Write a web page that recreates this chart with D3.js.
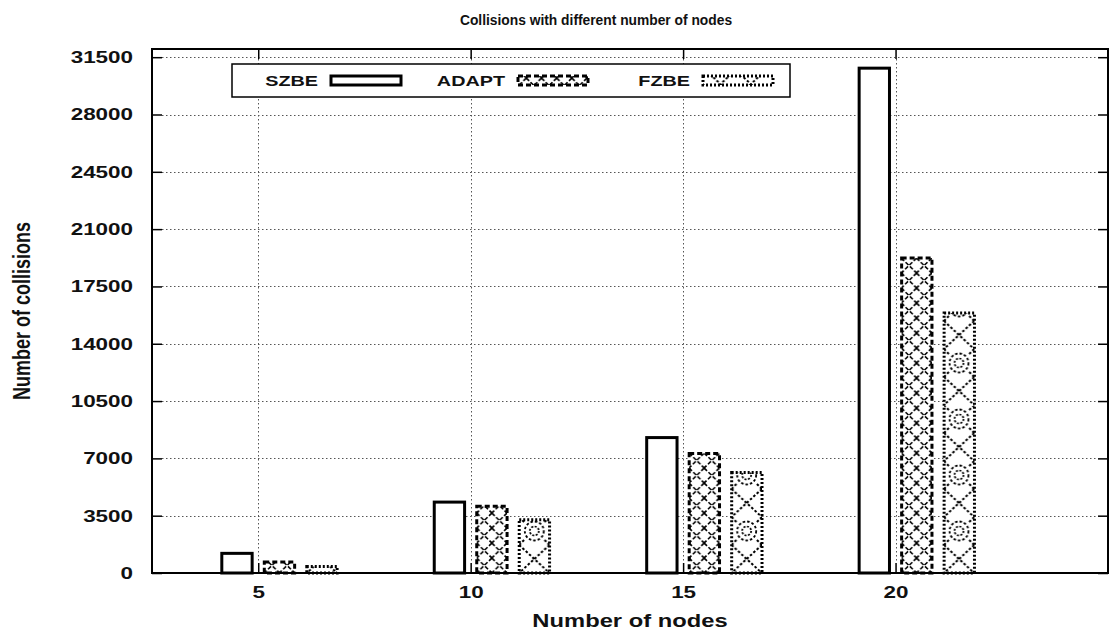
<!DOCTYPE html>
<html>
<head>
<meta charset="utf-8">
<script src="https://cdn.jsdelivr.net/npm/d3@7"></script>
<style>
  body { margin: 0; background: #fff; }
  text { font-family: "Liberation Sans", Arial, sans-serif; font-weight: bold; fill: #111; }
</style>
</head>
<body>
<svg width="1110" height="633"></svg>
<script>
// data
const nodes = [5, 10, 15, 20];
const seriesNames = ["SZBE", "ADAPT", "FZBE"];
const szbe = [1200, 4330, 8270, 30830];
const adapt = [670, 4070, 7300, 19230];
const fzbe = [400, 3250, 6140, 15880];
const yTicks = [0, 3500, 7000, 10500, 14000, 17500, 21000, 24500, 28000, 31500];

const svgWidth = 1110, svgHeight = 633;
const margin = { top: 49, right: 2, bottom: 60, left: 152 };
const width = svgWidth - margin.left - margin.right;
const height = svgHeight - margin.top - margin.bottom;
const sx = 1.32; // the original figure is stretched sideways

const svg = d3.select("svg");

const x = d3.scaleLinear().domain([2.5, 25]).range([0, width]);
const y = d3.scaleLinear().domain([0, 32000]).range([height, 0]);

const barW = 0.714;
const barPx = x(barW) - x(0);

// stretch text horizontally around its own x
function stretch(sel) {
    sel.each(function() {
        const t = d3.select(this);
        const tx = +t.attr("x") || 0;
        t.attr("transform", "translate(" + tx + ",0) scale(" + sx + ",1) translate(" + (-tx) + ",0)");
    });
}

// patterns, lined up with the bars
const defs = svg.append("defs");
const pA = defs.append("pattern")
    .attr("id", "patAdapt")
    .attr("patternUnits", "userSpaceOnUse")
    .attr("x", x(5 + 0.5 - barW / 2)).attr("y", y(0))
    .attr("width", barPx / 2).attr("height", 15);
pA.append("rect").attr("width", barPx / 2).attr("height", 15).attr("fill", "#fff");
pA.append("path")
    .attr("d", "M0,0 L" + barPx / 2 + ",15 M" + barPx / 2 + ",0 L0,15")
    .attr("stroke", "#000").attr("stroke-width", 1.6)
    .attr("stroke-dasharray", "4,2");

const w = barPx, ph = 56;
const pF = defs.append("pattern")
    .attr("id", "patFzbe")
    .attr("patternUnits", "userSpaceOnUse")
    .attr("x", x(5 + 1.5 - barW / 2)).attr("y", y(0))
    .attr("width", w).attr("height", ph);
pF.append("rect").attr("width", w).attr("height", ph).attr("fill", "#fff");
pF.append("circle").attr("cx", w / 2).attr("cy", 14).attr("r", 9.5)
    .attr("fill", "none").attr("stroke", "#000").attr("stroke-width", 1.8)
    .attr("stroke-dasharray", "2.5,2");
pF.append("circle").attr("cx", w / 2).attr("cy", 14).attr("r", 4.5)
    .attr("fill", "none").attr("stroke", "#000").attr("stroke-width", 1.7)
    .attr("stroke-dasharray", "2,1.5");
pF.append("path")
    .attr("d", "M0,28 L" + w + "," + ph + " M" + w + ",28 L0," + ph +
        " M0,0 L6,6 M" + w + ",0 L" + (w - 6) + ",6 M0,28 L6,22 M" + w + ",28 L" + (w - 6) + ",22")
    .attr("stroke", "#000").attr("stroke-width", 2)
    .attr("stroke-dasharray", "2.5,2");

const styles = [
    { fill: "#fff", dash: null, offset: -0.5, values: szbe },
    { fill: "url(#patAdapt)", dash: "5,3", offset: 0.5, values: adapt },
    { fill: "url(#patFzbe)", dash: "2,2", offset: 1.5, values: fzbe }
];

const g = svg.append("g")
    .attr("transform", "translate(" + margin.left + "," + margin.top + ")");

// grid
g.append("g").selectAll("line")
    .data(yTicks.slice(1))
    .join("line")
    .attr("x1", 10).attr("x2", width - 10)
    .attr("y1", d => Math.round(y(d)) + 0.5).attr("y2", d => Math.round(y(d)) + 0.5)
    .attr("stroke", "#555").attr("stroke-width", 1)
    .attr("stroke-dasharray", "1.5,2.5");

g.append("g").selectAll("line")
    .data(nodes)
    .join("line")
    .attr("x1", d => Math.round(x(d)) + 0.5).attr("x2", d => Math.round(x(d)) + 0.5)
    .attr("y1", 10).attr("y2", height - 10)
    .attr("stroke", "#555").attr("stroke-width", 1)
    .attr("stroke-dasharray", "1.5,2.5");

// bars
styles.forEach(function(s) {
    g.append("g").selectAll("rect")
        .data(nodes.map((n, i) => ({ n: n, v: s.values[i] })))
        .join("rect")
        .attr("x", d => x(d.n + s.offset - barW / 2))
        .attr("width", barPx)
        .attr("y", d => y(d.v))
        .attr("height", d => y(0) - y(d.v))
        .attr("fill", s.fill)
        .attr("stroke", "#000")
        .attr("stroke-width", 3)
        .attr("stroke-dasharray", s.dash);
});

// axes (gnuplot style: inward ticks, mirrored)
const fmt = d3.format("d");
const yAxisL = d3.axisLeft(y).tickValues(yTicks).tickFormat(fmt).tickSizeInner(-10).tickSizeOuter(0).tickPadding(19);
const yAxisR = d3.axisRight(y).tickValues(yTicks).tickSizeInner(-10).tickSizeOuter(0).tickFormat("");
const xAxisB = d3.axisBottom(x).tickValues(nodes).tickFormat(fmt).tickSizeInner(-10).tickSizeOuter(0).tickPadding(13);
const xAxisT = d3.axisTop(x).tickValues(nodes).tickSizeInner(-10).tickSizeOuter(0).tickFormat("");

function styleAxis(sel) {
    sel.selectAll("line").attr("stroke", "#000").attr("stroke-width", 1.5);
    sel.select(".domain").remove();
    sel.selectAll("text").attr("font-size", 17).attr("font-family", "Liberation Sans, Arial, sans-serif")
        .attr("font-weight", "bold").attr("fill", "#111").call(stretch);
}
g.append("g").call(yAxisL).call(styleAxis);
g.append("g").attr("transform", "translate(" + width + ",0)").call(yAxisR).call(styleAxis);
g.append("g").attr("transform", "translate(0," + height + ")").call(xAxisB).call(styleAxis);
g.append("g").call(xAxisT).call(styleAxis);

// frame
g.append("rect")
    .attr("x", 0).attr("y", 0)
    .attr("width", width).attr("height", height)
    .attr("fill", "none").attr("stroke", "#000").attr("stroke-width", 2);

// legend
const legend = svg.append("g").attr("transform", "translate(232,64)");
legend.append("rect")
    .attr("width", 558).attr("height", 33)
    .attr("fill", "#fff").attr("stroke", "#000").attr("stroke-width", 1.5);
const legendX = [86, 273, 458];
seriesNames.forEach(function(name, i) {
    legend.append("text")
        .attr("x", legendX[i]).attr("y", 22)
        .attr("text-anchor", "end")
        .attr("font-size", 15)
        .text(name)
        .call(stretch);
    legend.append("rect")
        .attr("x", legendX[i] + 13).attr("y", 12)
        .attr("width", 70).attr("height", 9)
        .attr("fill", styles[i].fill)
        .attr("stroke", "#000").attr("stroke-width", 3)
        .attr("stroke-dasharray", styles[i].dash);
});

// titles
svg.append("text")
    .attr("x", 596).attr("y", 25)
    .attr("text-anchor", "middle")
    .attr("font-size", 13.8)
    .text("Collisions with different number of nodes");

svg.append("text")
    .attr("x", 630).attr("y", 627)
    .attr("text-anchor", "middle")
    .attr("font-size", 18)
    .text("Number of nodes")
    .call(stretch);

svg.append("text")
    .attr("transform", "translate(30,311) scale(" + sx + ",1) rotate(-90)")
    .attr("text-anchor", "middle")
    .attr("font-size", 18)
    .text("Number of collisions");
</script>
</body>
</html>
